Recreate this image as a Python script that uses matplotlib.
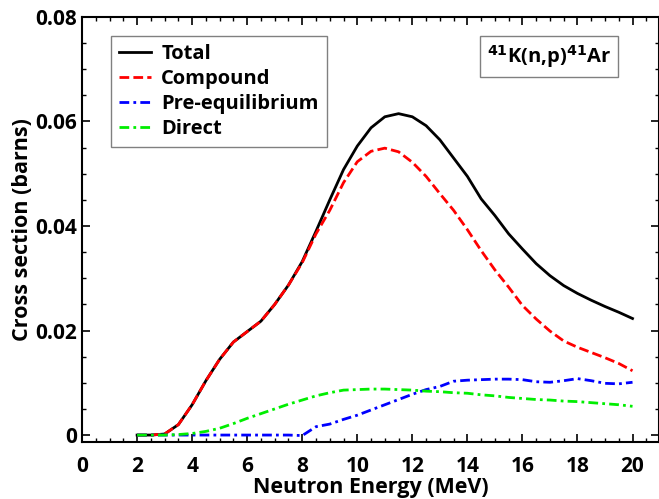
import matplotlib
matplotlib.use("Agg")
import matplotlib.pyplot as plt
from matplotlib.ticker import MultipleLocator

plt.rcParams['font.family'] = ['Open Sans', 'DejaVu Sans']
plt.rcParams['font.weight'] = 'bold'
plt.rcParams['mathtext.default'] = 'bf'

energy = [2, 2.5, 3, 3.5, 4, 4.5, 5, 5.5, 6, 6.5, 7, 7.5, 8, 8.5, 9, 9.5, 10, 10.5,
          11, 11.5, 12, 12.5, 13, 13.5, 14, 14.5, 15, 15.5, 16, 16.5, 17, 17.5,
          18, 18.5, 19, 19.5, 20]
total = [0, 0, 0.0002, 0.002, 0.0058, 0.0104, 0.0145, 0.0178, 0.0198, 0.0218, 0.025,
         0.0287, 0.0332, 0.039, 0.045, 0.0508, 0.0553, 0.0588, 0.0609, 0.0615, 0.0609,
         0.0592, 0.0565, 0.053, 0.0495, 0.0452, 0.042, 0.0385, 0.0356, 0.0328, 0.0305,
         0.0286, 0.0271, 0.0258, 0.0246, 0.0235, 0.0223]
compound = [0, 0, 0.0002, 0.002, 0.0058, 0.0104, 0.0145, 0.0178, 0.0198, 0.0218, 0.025,
            0.0287, 0.033, 0.0385, 0.043, 0.0483, 0.0523, 0.0543, 0.0549, 0.0542, 0.0522,
            0.0495, 0.0462, 0.043, 0.0393, 0.0353, 0.0316, 0.0283, 0.0248, 0.0222, 0.0199,
            0.018, 0.0168, 0.0158, 0.0148, 0.0137, 0.0123]
preeq = [0, 0, 0, 0, 0, 0, 0, 0, 0, 0, 0, 0, -0.0001, 0.0016, 0.0021, 0.003, 0.0038,
         0.0048, 0.0058, 0.0068, 0.0078, 0.0087, 0.0093, 0.0103, 0.0105, 0.0106, 0.0107,
         0.0107, 0.0106, 0.0102, 0.0101, 0.0104, 0.0108, 0.0104, 0.0099, 0.0098, 0.0101]
direct = [0, 0, 0, 0.0001, 0.0003, 0.0007, 0.0013, 0.0022, 0.0032, 0.0041, 0.005, 0.0059,
          0.0067, 0.0075, 0.0081, 0.0086, 0.0087, 0.0088, 0.0088, 0.0087, 0.0086, 0.0084,
          0.0083, 0.0081, 0.008, 0.0077, 0.0075, 0.0072, 0.007, 0.0068, 0.0067, 0.0065,
          0.0064, 0.0062, 0.006, 0.0058, 0.0055]

fig = plt.figure(figsize=(6.59, 4.99), dpi=100)
ax = fig.add_axes([0.1245, 0.114, 0.875, 0.852])

ax.plot(energy, total, "-", color="black", lw=2.0, label="Total")
ax.plot(energy, compound, color="red", lw=2.0, dashes=(3.5, 1.5), label="Compound")
ax.plot(energy, preeq, color="blue", lw=2.0, dashes=(3.5, 1.5, 1, 1.5), label="Pre-equilibrium")
ax.plot(energy, direct, color="#00ee00", lw=2.0, dashes=(3.5, 1.5, 1, 1.5), label="Direct")

ax.set_xlim(0, 20.95)
ax.set_ylim(-0.00135, 0.08)
ax.xaxis.set_major_locator(MultipleLocator(2))
ax.xaxis.set_minor_locator(MultipleLocator(0.5))
ax.yaxis.set_minor_locator(MultipleLocator(0.005))
ax.set_yticks([0, 0.02, 0.04, 0.06, 0.08])
ax.set_yticklabels(["0", "0.02", "0.04", "0.06", "0.08"])
ax.tick_params(which="both", direction="in", top=True, right=True, labelsize=15)
ax.tick_params(which="major", length=6, width=1.2)
ax.tick_params(which="minor", length=3, width=1)
ax.tick_params(axis="x", which="major", pad=10)
for s in ax.spines.values():
    s.set_linewidth(1.5)

ax.set_xlabel("Neutron Energy (MeV)", fontsize=15.5, fontweight="bold", labelpad=0)
ax.set_ylabel("Cross section (barns)", fontsize=15.5, fontweight="bold", labelpad=2)

leg = ax.legend(loc="upper left", bbox_to_anchor=(0.05, 0.955), borderaxespad=0,
                fontsize=14.5, fancybox=False, edgecolor="gray", framealpha=1,
                handlelength=1.6, borderpad=0.4, labelspacing=0.25, handletextpad=0.5)
leg.get_frame().set_linewidth(1.0)

ax.text(0.81, 0.907, r"$^{41}$K(n,p)$^{41}$Ar", transform=ax.transAxes, fontsize=14.5,
        fontweight="bold", ha="center", va="center",
        bbox=dict(boxstyle="square,pad=0.35", fc="white", ec="gray", lw=1.0))

plt.savefig("out.png", dpi=100)
